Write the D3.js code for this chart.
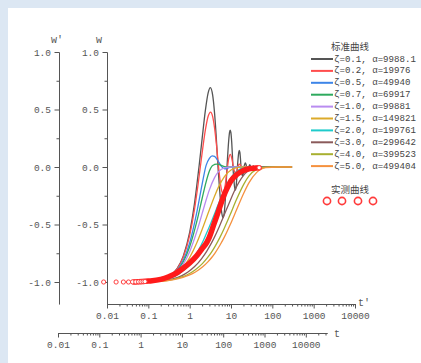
<!DOCTYPE html>
<html><head><meta charset="utf-8">
<script src="https://cdn.jsdelivr.net/npm/d3@7"></script>
<style>html,body{margin:0;padding:0;background:#fff;} svg{display:block}</style>
</head><body>
<svg id="chart" width="421" height="363"></svg>
<script>
// ---------- data ----------
const legendLabels = ["ζ=0.1, α=9988.1","ζ=0.2, α=19976","ζ=0.5, α=49940","ζ=0.7, α=69917","ζ=1.0, α=99881",
  "ζ=1.5, α=149821","ζ=2.0, α=199761","ζ=3.0, α=299642","ζ=4.0, α=399523","ζ=5.0, α=499404"];
const seriesColors = ["#555555","#ff4d4d","#3d85e8","#2eaa5e","#b98cf0","#dcaa2a","#1ecbcb","#8a5a5a","#a8b030","#f5913e"];
const xMajor = [0.01,0.1,1,10,100,1000,10000];
const xTickLabels = ["0.01","0.1","1","10","100","1000","10000"];
const yMajor = [-1,-0.5,0,0.5,1];
const yTickLabels = ["-1.0","-0.5","0.0","0.5","1.0"];
const yMinor = [-0.75,-0.25,0.25,0.75];

// standard curves [t', w]
const z01 = [[0.03,-1],[0.1,-0.995],[0.2,-0.98],[0.3,-0.956],[0.5,-0.882],[0.7,-0.775],[1,-0.569],[1.3,-0.325],[1.68,0],
  [2.0,0.244],[2.4,0.492],[2.8,0.644],[3.16,0.69],[3.6,0.625],[4.0,0.469],[4.4,0.258],[4.84,0],
  [5.2,-0.155],[5.6,-0.302],[6.0,-0.403],[6.4,-0.44],[6.8,-0.408],[7.2,-0.311],[7.6,-0.168],[7.99,0],
  [8.3,0.097],[8.8,0.231],[9.2,0.299],[9.55,0.32],[9.9,0.303],[10.4,0.217],[10.8,0.109],[11.15,0],
  [11.6,-0.086],[12.2,-0.173],[12.7,-0.2],[13.2,-0.179],[13.8,-0.097],[14.31,0],
  [14.8,0.068],[15.4,0.128],[15.85,0.145],[16.4,0.127],[17.0,0.065],[17.47,0],
  [18.1,-0.047],[19.0,-0.08],[19.9,-0.053],[20.62,0],[21.3,0.021],[22.2,0.035],[23.1,0.023],[23.78,0],
  [24.5,-0.018],[25.4,-0.03],[26.2,-0.02],[26.94,0],[28.5,0.02],[30.1,0],[31.7,-0.012],[33.25,0],[34.8,0.01],[36.4,0],[50,0],[300,0]];
const z02 = [[0.03,-1],[0.1,-0.995],[0.2,-0.981],[0.3,-0.957],[0.5,-0.885],[0.7,-0.785],[1,-0.595],[1.3,-0.376],[1.6,-0.15],
  [2,0.121],[2.4,0.322],[2.8,0.441],[3.2,0.478],[3.6,0.438],[4,0.34],[4.5,0.176],[5,0.004],[5.5,-0.132],[5.9,-0.201],[6.4,-0.229],
  [6.9,-0.201],[7.3,-0.149],[8,-0.035],[8.8,0.072],[9.6,0.11],[10.4,0.078],[11.2,0.017],[12,-0.034],[12.8,-0.052],[13.6,-0.038],
  [14.4,-0.008],[15.2,0.016],[16,0.025],[16.8,0.018],[17.6,0.004],[19.2,-0.012],[22.4,0.006],[25.6,-0.003],[30,0],[300,0]];
const z05 = [[0.03,-1],[0.1,-0.995],[0.2,-0.981],[0.3,-0.959],[0.5,-0.896],[0.7,-0.811],[1,-0.66],[1.5,-0.389],[2,-0.151],
  [2.5,0.014],[3,0.075],[3.5,0.097],[4,0.092],[5,0.045],[6,0.001],[7,-0.015],[8,-0.013],[10,0.001],[15,0],[300,0]];
const z07 = [[0.03,-1],[0.1,-0.995],[0.2,-0.982],[0.3,-0.961],[0.5,-0.902],[0.7,-0.826],[1,-0.694],[1.5,-0.469],[2,-0.274],
  [2.5,-0.129],[3,-0.035],[3.5,0.01],[4,0.022],[4.5,0.025],[5,0.022],[6,0.011],[7,0.003],[8,0],[10,0],[300,0]];
const z10 = [[0.03,-1],[0.1,-0.995],[0.2,-0.982],[0.3,-0.963],[0.5,-0.91],[0.7,-0.844],[1,-0.736],[1.5,-0.558],[2,-0.406],
  [2.5,-0.287],[3,-0.199],[4,-0.092],[5,-0.04],[7,-0.007],[10,0],[300,0]];
const z15 = [[0.03,-1],[0.1,-0.995],[0.2,-0.984],[0.3,-0.966],[0.5,-0.921],[0.7,-0.869],[1,-0.787],[1.5,-0.657],[2,-0.544],
  [2.5,-0.45],[3,-0.372],[4,-0.254],[5,-0.173],[7,-0.081],[10,-0.026],[15,-0.004],[20,0],[300,0]];
const z20 = [[0.03,-1],[0.11,-0.996],[0.22,-0.984],[0.33,-0.969],[0.55,-0.93],[0.77,-0.887],[1.1,-0.822],[1.65,-0.721],[2.2,-0.63],
  [2.75,-0.551],[3.3,-0.482],[4.4,-0.369],[5.5,-0.282],[7.7,-0.165],[11,-0.074],[16.5,-0.019],[22,-0.005],[33,0],[300,0]];
const z30 = [[0.03,-1],[0.13,-0.996],[0.26,-0.986],[0.39,-0.973],[0.65,-0.944],[0.91,-0.913],[1.3,-0.868],[1.95,-0.796],[2.6,-0.731],
  [3.25,-0.671],[3.9,-0.616],[5.2,-0.519],[6.5,-0.437],[9.1,-0.31],[13,-0.185],[19.5,-0.079],[26,-0.033],[39,-0.006],[65,0],[300,0]];
const z40 = [[0.03,-1],[0.135,-0.996],[0.27,-0.988],[0.405,-0.977],[0.675,-0.954],[0.945,-0.93],[1.35,-0.895],[2.03,-0.84],[2.7,-0.788],
  [3.38,-0.74],[4.05,-0.694],[5.4,-0.612],[6.75,-0.539],[9.45,-0.418],[13.5,-0.285],[20.3,-0.151],[27,-0.08],[40.5,-0.023],[67.5,-0.002],[135,0],[300,0]];
const z50 = [[0.03,-1],[0.138,-0.996],[0.276,-0.989],[0.414,-0.98],[0.69,-0.96],[0.966,-0.941],[1.38,-0.913],[2.07,-0.868],[2.76,-0.825],
  [3.45,-0.785],[4.14,-0.746],[5.52,-0.674],[6.9,-0.61],[9.66,-0.498],[13.8,-0.368],[20.7,-0.222],[27.6,-0.134],[41.4,-0.049],[69,-0.006],[138,0],[300,0]];
const standardSeries = [z01,z02,z05,z07,z10,z15,z20,z30,z40,z50];

// measured curve (dense samples drawn as a band) and the separately visible samples
const measured = [[0.045,-0.999],[0.1,-0.992],[0.2,-0.977],[0.3,-0.957],[0.5,-0.918],[0.7,-0.88],[1,-0.835],[1.5,-0.77],[2,-0.71],
  [2.6,-0.655],[3,-0.61],[3.75,-0.51],[4.5,-0.43],[5.45,-0.34],[6.5,-0.26],[7.9,-0.19],[10,-0.12],[13.8,-0.065],[20,-0.03],
  [26,-0.017],[35,-0.01],[48,-0.006]];
const measuredSamples = [[0.0083,-1],[0.0166,-1],[0.0249,-1],[0.0332,-1],[0.0415,-0.999],[0.0498,-0.999],[0.0581,-0.998],
  [0.0664,-0.998],[0.0747,-0.997],[0.083,-0.996],[48,-0.006]];

// ---------- drawing ----------
const svg = d3.select("#chart");
svg.append("rect").attr("width",421).attr("height",363).attr("fill","#dce7f3");
svg.append("rect").attr("x",8).attr("y",8).attr("width",413).attr("height",355).attr("fill","#ffffff");

const x1 = d3.scaleLog().domain([0.01,10000]).range([107,355]);
const x2 = d3.scaleLog().domain([0.01,32600]).range([58,327]);
const y = d3.scaleLinear().domain([-1.19,1]).range([303.85,52]);

const axisColor = "#555";
const fontMono = "'Liberation Mono', 'DejaVu Sans Mono', monospace";
function style(g){
  g.select(".domain").attr("stroke",axisColor).attr("stroke-width",1);
  g.selectAll(".tick line").attr("stroke",axisColor);
  g.selectAll("text").attr("fill","#555").style("font-family",fontMono).style("font-size","9.5px");
}
function minorOf(scale){
  const maj = new Set(xMajor);
  return scale.ticks().filter(v => !maj.has(v));
}

// bottom axes
[[x1,304],[x2,333]].forEach(([sc,yy])=>{
  svg.append("g").attr("transform",`translate(0,${yy})`)
    .call(d3.axisBottom(sc).tickValues(minorOf(sc)).tickSize(2.5).tickFormat("").tickSizeOuter(0)).call(style);
  const g = svg.append("g").attr("transform",`translate(0,${yy})`)
    .call(d3.axisBottom(sc).tickValues(xMajor).tickSize(4.5).tickFormat((d,i)=>xTickLabels[i]).tickSizeOuter(0)).call(style);
  g.selectAll("text").attr("y",8.5);
});

// left axes
[59,107].forEach(xx=>{
  svg.append("g").attr("transform",`translate(${xx},0)`)
    .call(d3.axisLeft(y).tickValues(yMinor).tickSize(2.5).tickFormat("").tickSizeOuter(0)).call(style);
  const g = svg.append("g").attr("transform",`translate(${xx},0)`)
    .call(d3.axisLeft(y).tickValues(yMajor).tickSize(4.5).tickFormat((d,i)=>yTickLabels[i]).tickSizeOuter(0)).call(style);
  g.selectAll("text").attr("x",-8);
});

// axis titles
const titleStyle = s => s.attr("fill","#555").style("font-family",fontMono).style("font-size","10px");
svg.append("text").attr("x",57).attr("y",43).attr("text-anchor","middle").text("w'").call(titleStyle);
svg.append("text").attr("x",99).attr("y",43).attr("text-anchor","middle").text("w").call(titleStyle);
svg.append("text").attr("x",358).attr("y",306).text("t'").call(titleStyle);
svg.append("text").attr("x",334).attr("y",337).text("t").call(titleStyle);

// curves
const line = d3.line().x(d=>x1(d[0])).y(d=>y(d[1])).curve(d3.curveMonotoneX);
const plot = svg.append("g");
standardSeries.forEach((s,i)=>{
  plot.append("path").attr("d",line(s)).attr("fill","none")
    .attr("stroke",seriesColors[i]).attr("stroke-width",1.3);
});
plot.append("path").attr("d",line(measured)).attr("fill","none")
  .attr("stroke","#ff1a1a").attr("stroke-width",5.5).attr("stroke-linecap","round").attr("stroke-linejoin","round");
plot.selectAll("circle.m").data(measuredSamples).join("circle")
  .attr("cx",d=>x1(d[0])).attr("cy",d=>y(d[1])).attr("r",2.1)
  .attr("fill","#fff").attr("stroke","#ff4040").attr("stroke-width",1);

// legend
const cjk = "'Noto Sans CJK SC', sans-serif";
svg.append("text").attr("x",350).attr("y",46).attr("text-anchor","middle").attr("dominant-baseline","central")
  .attr("fill","#444").style("font-family",cjk).style("font-size","9.5px").text("标准曲线");
const leg = svg.append("g");
legendLabels.forEach((lab,i)=>{
  const yy = 59 + i*11.9;
  leg.append("line").attr("x1",311).attr("x2",333).attr("y1",yy).attr("y2",yy)
    .attr("stroke",seriesColors[i]).attr("stroke-width",2);
  leg.append("text").attr("x",334).attr("y",yy).attr("dominant-baseline","central")
    .attr("fill","#444").style("font-family",fontMono).style("font-size","9.1px").text(lab);
});
svg.append("text").attr("x",350).attr("y",189).attr("text-anchor","middle").attr("dominant-baseline","central")
  .attr("fill","#444").style("font-family",cjk).style("font-size","9.5px").text("实测曲线");
[327,342,358,373].forEach(cx=>{
  svg.append("circle").attr("cx",cx).attr("cy",201).attr("r",3.6)
    .attr("fill","#fff").attr("stroke","#ff3b3b").attr("stroke-width",1.6);
});
</script>
</body></html>
